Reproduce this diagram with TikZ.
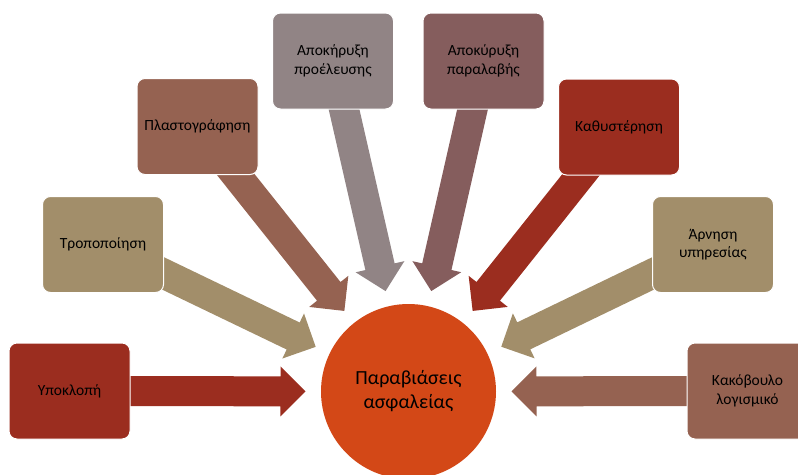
\documentclass[tikz,border=0pt]{standalone}
\usepackage{fontspec}
\setmainfont{Carlito}
\usetikzlibrary{calc,backgrounds}

% Equity palette
\definecolor{eqorange}{HTML}{D34817}
\definecolor{eqred}{HTML}{9B2D1F}
\definecolor{eqtan}{HTML}{A28E6A}
\definecolor{eqbrown}{HTML}{956251}
\definecolor{eqgrey}{HTML}{918485}
\definecolor{eqmauve}{HTML}{855D5D}

\tikzset{
  threat/.style={rectangle, rounded corners=8pt, draw=white, line width=1pt,
    minimum width=121pt, minimum height=96pt, align=center, text=black,
    inner sep=2pt, font=\fontsize{15.5}{18.5}\selectfont},
  hub/.style={circle, fill=eqorange, minimum size=175pt, inner sep=0pt,
    align=center, text=black, font=\fontsize{20}{24}\selectfont},
}

% block arrow from the centre of box #1 towards the hub (c), filled with #2
\newcommand\convarrow[2]{%
  \coordinate (#1-tip) at ($(c.center)!103pt!(#1.center)$);
  \coordinate (#1-neck) at ($(c.center)!128pt!(#1.center)$);
  \fill[#2] ($(#1.center)!15pt!90:(c.center)$)
    -- ($(#1-neck)!15pt!90:(c.center)$)
    -- ($(#1-neck)!25pt!90:(c.center)$)
    -- (#1-tip)
    -- ($(#1-neck)!25pt!-90:(c.center)$)
    -- ($(#1-neck)!15pt!-90:(c.center)$)
    -- ($(#1.center)!15pt!-90:(c.center)$) -- cycle;
}

\begin{document}
\begin{tikzpicture}[x=1pt,y=-1pt]
\useasboundingbox (0,0) rectangle (798,474);
\clip (0,0) rectangle (798,474);

\node[hub] (c) at (408.5,391.5) {Παραβιάσεις\\ασφαλείας};

\node[threat, fill=eqred]   (b1) at (69.5,391)   {Υποκλοπή};
\node[threat, fill=eqtan]   (b2) at (103,244.5)  {Τροποποίηση};
\node[threat, fill=eqbrown] (b3) at (197.5,126.5) {Πλαστογράφηση};
\node[threat, fill=eqgrey]  (b4) at (333,61)     {Αποκήρυξη\\προέλευσης};
\node[threat, fill=eqmauve] (b5) at (483.5,61)   {Αποκύρυξη\\παραλαβής};
\node[threat, fill=eqred]   (b6) at (619,127)    {Καθυστέρηση};
\node[threat, fill=eqtan]   (b7) at (713,244.5)  {Άρνηση\\υπηρεσίας};
\node[threat, fill=eqbrown] (b8) at (747.5,391)  {Κακόβουλο\\λογισμικό};

\begin{pgfonlayer}{background}
  \convarrow{b1}{eqred}
  \convarrow{b2}{eqtan}
  \convarrow{b3}{eqbrown}
  \convarrow{b4}{eqgrey}
  \convarrow{b5}{eqmauve}
  \convarrow{b6}{eqred}
  \convarrow{b7}{eqtan}
  \convarrow{b8}{eqbrown}
\end{pgfonlayer}
\end{tikzpicture}
\end{document}
